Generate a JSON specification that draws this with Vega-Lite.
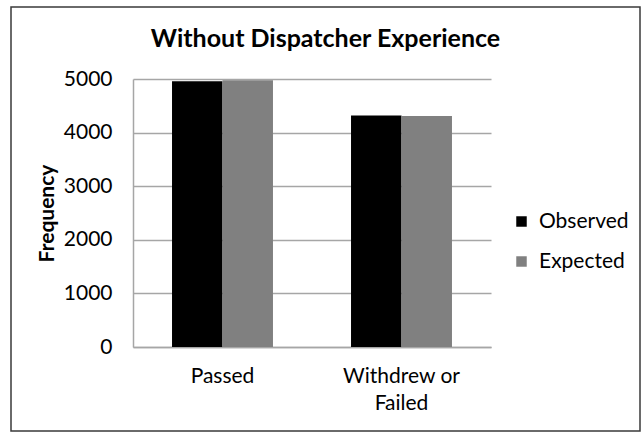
{
  "$schema": "https://vega.github.io/schema/vega-lite/v6.json",
  "width": 629,
  "height": 424,
  "autosize": {"type": "none"},
  "padding": {"left": 11, "top": 7, "right": 2, "bottom": 1},
  "background": "white",
  "title": {
    "text": "Without Dispatcher Experience",
    "font": "Lato",
    "fontSize": 25,
    "fontWeight": "bold",
    "color": "#000000",
    "anchor": "middle",
    "frame": "group",
    "offset": -45
  },
  "config": {
    "view": {"stroke": "#3a3a3a", "strokeWidth": 1.5},
    "font": "Lato",
    "axis": {"labelFont": "Lato", "titleFont": "Lato", "labelColor": "#000000", "titleColor": "#000000"},
    "legend": {"labelFont": "Lato"}
  },
  "data": {
    "values": [
      {"outcome": "Passed", "series": "Observed", "frequency": 4960},
      {"outcome": "Passed", "series": "Expected", "frequency": 4978},
      {"outcome": "Withdrew or Failed", "series": "Observed", "frequency": 4317},
      {"outcome": "Withdrew or Failed", "series": "Expected", "frequency": 4312}
    ]
  },
  "mark": {"type": "bar"},
  "encoding": {
    "x": {
      "field": "outcome",
      "type": "nominal",
      "sort": ["Passed", "Withdrew or Failed"],
      "scale": {"range": [122, 480], "paddingInner": 0.436, "paddingOuter": 0.218},
      "axis": {
        "title": null,
        "orient": "bottom",
        "offset": -84,
        "labelAngle": 0,
        "labelFontSize": 21,
        "labelPadding": 18,
        "labelLineHeight": 27,
        "labelExpr": "datum.label == 'Withdrew or Failed' ? ['Withdrew or', 'Failed'] : datum.label",
        "ticks": false,
        "domainColor": "#a6a6a6",
        "domainWidth": 1.5,
        "grid": false
      }
    },
    "xOffset": {"field": "series", "type": "nominal", "sort": ["Observed", "Expected"], "scale": {"paddingInner": 0, "paddingOuter": 0}},
    "y": {
      "field": "frequency",
      "type": "quantitative",
      "scale": {"domain": [0, 5000], "range": [340, 72], "nice": false},
      "axis": {
        "title": "Frequency",
        "titleFontSize": 21,
        "titleFontWeight": "bold",
        "titlePadding": 6,
        "offset": -122,
        "values": [0, 1000, 2000, 3000, 4000, 5000],
        "format": "d",
        "labelFontSize": 21,
        "labelPadding": 21,
        "ticks": false,
        "domainColor": "#a6a6a6",
        "domainWidth": 1.5,
        "grid": true,
        "gridColor": "#a6a6a6",
        "gridWidth": 1.5
      }
    },
    "color": {
      "field": "series",
      "type": "nominal",
      "sort": ["Observed", "Expected"],
      "scale": {"range": ["#000000", "#808080"]},
      "legend": {
        "title": null,
        "orient": "none",
        "legendX": 500,
        "legendY": 204,
        "symbolType": "square",
        "symbolSize": 110,
        "symbolStrokeWidth": 0,
        "labelFontSize": 21,
        "labelOffset": 7,
        "rowPadding": 18
      }
    }
  }
}
